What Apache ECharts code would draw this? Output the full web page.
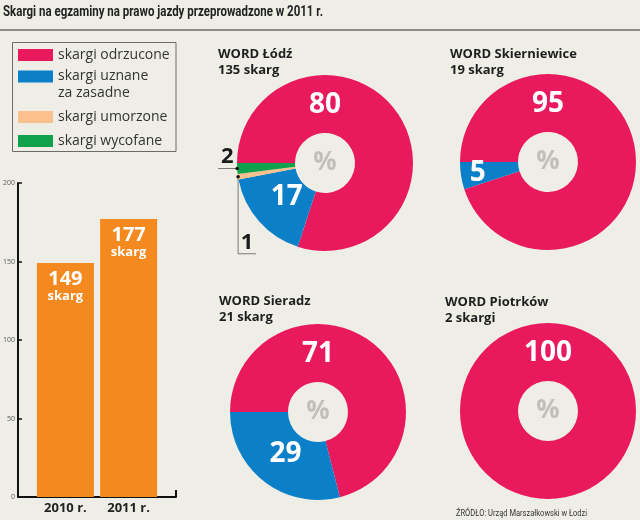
<!DOCTYPE html>
<html><head><meta charset="utf-8">
<script src="https://cdn.jsdelivr.net/npm/echarts@6/dist/echarts.min.js"></script>
<style>html,body{margin:0;padding:0;background:#efeee6}#c{width:640px;height:520px}</style>
</head><body><div id="c"></div>
<script>
// ---- data ----
const categories = ['skargi odrzucone', 'skargi uznane za zasadne', 'skargi umorzone', 'skargi wycofane'];
const pieNames = ['WORD Łódź', 'WORD Skierniewice', 'WORD Sieradz', 'WORD Piotrków'];
const pieCounts = ['135 skarg', '19 skarg', '21 skarg', '2 skargi'];
const lodz = [80, 17, 1, 2];
const skierniewice = [95, 5, 0, 0];
const sieradz = [71, 29, 0, 0];
const piotrkow = [100, 0, 0, 0];
const years = ['2010 r.', '2011 r.'];
const totals = [149, 177];
const yTicks = [0, 50, 100, 150, 200];
const titleText = 'Skargi na egzaminy na prawo jazdy przeprowadzone w 2011 r.';
const sourceText = 'ŹRÓDŁO: Urząd Marszałkowski w Łodzi';

// ---- styles / layout ----
const colors = ['#e9195d', '#0b7fc8', '#fcc08e', '#0fa14b'];
const BG = '#efeee6';
const FONT = 'Open Sans';
const R_OUT = 88, R_IN = 30;
const pieData = [lodz, skierniewice, sieradz, piotrkow];
const pieLayout = [
  { cx: 325, cy: 163, tx: 218, ty: 46, rl: 51 },
  { cx: 548, cy: 162, tx: 450, ty: 46, rl: 71 },
  { cx: 318, cy: 412, tx: 219, ty: 293, rl: 53 },
  { cx: 548, cy: 411, tx: 445, ty: 294, rl: 52 }
];

function fitScale(text, font, width) {
  const ctx = document.createElement('canvas').getContext('2d');
  ctx.font = font;
  return width / ctx.measureText(text).width;
}

const anchorDots = [];
function pieSeries(k) {
  const values = pieData[k];
  const L = pieLayout[k];
  const total = values.reduce((a, b) => a + b, 0);
  const items = [];
  values.forEach((v, i) => { if (v > 0) items.push({ cat: i, value: v }); });
  let cum = 0;
  const mids = items.map(it => {
    const a0 = 180 - 360 * cum / total; cum += it.value;
    const a1 = 180 - 360 * cum / total;
    return (a0 + a1) / 2 * Math.PI / 180;
  });
  items.forEach((it, i) => {
    if (it.cat >= 2) anchorDots.push([L.cx + R_OUT * Math.cos(mids[i]), L.cy - R_OUT * Math.sin(mids[i])]);
  });
  return {
    type: 'pie', center: [L.cx, L.cy], radius: [R_IN, R_OUT],
    startAngle: 180, clockwise: true, avoidLabelOverlap: false, silent: true,
    data: items.map(it => {
      const d = { name: categories[it.cat], value: it.value, itemStyle: { color: colors[it.cat] } };
      if (it.cat >= 2) {
        d.label = { position: 'outside', color: '#1a1a1a', fontSize: 22, fontWeight: 'bold' };
        d.labelLine = { show: true, lineStyle: { color: '#777', width: 1 } };
      }
      return d;
    }),
    label: { show: true, position: 'inside', formatter: '{c}', color: '#fff', fontSize: 28,
      fontWeight: 'bold', fontFamily: FONT },
    labelLine: { show: false },
    labelLayout: function (p) {
      const i = p.dataIndex, it = items[i], m = mids[i];
      if (!it) return {};
      if (it.cat === 0) return { x: L.cx, y: L.cy - 58, align: 'center', verticalAlign: 'middle' };
      if (it.cat === 1) return { x: L.cx + L.rl * Math.cos(m), y: L.cy - L.rl * Math.sin(m), align: 'center', verticalAlign: 'middle' };
      const ax = L.cx + R_OUT * Math.cos(m), ay = L.cy - R_OUT * Math.sin(m);
      if (it.cat === 3) return { x: ax - 10, y: ay - 12, align: 'center', verticalAlign: 'middle',
        labelLinePoints: [[ax, ay], [ax - 19, ay], [ax - 19, ay]] };
      return { x: ax + 9, y: ay + 66, align: 'center', verticalAlign: 'middle',
        labelLinePoints: [[ax, ay], [ax, ay + 77], [ax + 18, ay + 77]] };
    }
  };
}
const pies = [pieSeries(0), pieSeries(1), pieSeries(2), pieSeries(3)];

const legendTops = [48, 52.5, 110, 134];
const legends = categories.map((c, i) => ({
  data: [c], left: 18, top: legendTops[i], orient: 'vertical', padding: 0, itemGap: 0,
  itemWidth: 35, itemHeight: 12, icon: 'rect', selectedMode: false,
  formatter: n => n === categories[1] ? '{e| }\n{a|skargi uznane}\n{a|za zasadne}' : n,
  textStyle: i === 1
    ? { fontSize: 14, color: '#333', fontFamily: FONT,
        rich: { e: { lineHeight: 17, fontSize: 14 }, a: { lineHeight: 17, fontSize: 14, color: '#333', fontFamily: FONT } } }
    : { fontSize: 14, color: '#333', fontFamily: FONT, lineHeight: 12 }
}));

const titleFont = 'bold 14px Roboto';
const sourceFont = '9px Roboto';
const graphics = [
  { type: 'text', x: 3, y: 12, scaleX: fitScale(titleText, titleFont, 320),
    style: { text: titleText, font: titleFont, fill: '#222', verticalAlign: 'middle', textVerticalAlign: 'middle' } },
  { type: 'line', shape: { x1: 0, y1: 30, x2: 640, y2: 30 }, style: { stroke: '#8c8b84', lineWidth: 2 } },
  { type: 'rect', shape: { x: 12.5, y: 42.5, width: 163.5, height: 109 }, style: { fill: 'none', stroke: '#6a6a66', lineWidth: 1 } },
  { type: 'text', x: 456, y: 514, scaleX: fitScale(sourceText, sourceFont, 131),
    style: { text: sourceText, font: sourceFont, fill: '#333', verticalAlign: 'middle', textVerticalAlign: 'middle' } }
];
pieLayout.forEach((L, k) => {
  graphics.push({ type: 'text', x: L.tx, y: L.ty, style: { text: pieNames[k] + '\n' + pieCounts[k],
    font: 'bold 13px "' + FONT + '"', lineHeight: 16, fill: '#1e1e1e', verticalAlign: 'top', textVerticalAlign: 'top' } });
  graphics.push({ type: 'text', x: L.cx, y: L.cy, z: 100, style: { text: '%', font: 'bold 26px "' + FONT + '"',
    fill: '#c0bfb9', align: 'center', textAlign: 'center', verticalAlign: 'middle', textVerticalAlign: 'middle' } });
});
anchorDots.forEach(p => graphics.push({ type: 'circle', z: 100, shape: { cx: p[0], cy: p[1], r: 1.8 }, style: { fill: '#111' } }));

const option = {
  backgroundColor: BG,
  animation: false,
  legend: legends,
  graphic: graphics,
  grid: { left: 18, top: 183, width: 158, height: 314 },
  xAxis: {
    type: 'value', min: 0, max: 2.5,
    axisLine: { show: true, lineStyle: { color: '#111', width: 2 } },
    splitLine: { show: false },
    axisTick: { show: true, customValues: [2.5], inside: true, length: 7, lineStyle: { color: '#111', width: 2 } },
    axisLabel: { customValues: years.map((y, i) => i + 0.75), formatter: v => years[Math.round(v - 0.75)],
      fontSize: 13, fontWeight: 'bold', color: '#222', fontFamily: FONT, margin: 5 }
  },
  yAxis: {
    type: 'value', min: yTicks[0], max: yTicks[yTicks.length - 1], interval: yTicks[1] - yTicks[0],
    axisLine: { show: true, lineStyle: { color: '#111', width: 2 } },
    axisTick: { show: true, inside: true, length: 4, lineStyle: { color: '#111', width: 1.5 } },
    splitLine: { show: false },
    axisLabel: { fontSize: 7, color: '#555', margin: 3, fontFamily: FONT }
  },
  series: [
    {
      type: 'bar', barWidth: 57, silent: true,
      data: totals.map((v, i) => [i + 0.75, v]),
      itemStyle: { color: '#f4891f' },
      label: { show: true, position: 'insideTop', distance: 6,
        formatter: p => '{a|' + p.value[1] + '}\n{b|skarg}',
        rich: {
          a: { fontSize: 20, fontWeight: 'bold', color: '#fff', lineHeight: 20, fontFamily: FONT },
          b: { fontSize: 13, fontWeight: 'bold', color: '#fff', lineHeight: 15, fontFamily: FONT }
        } }
    }
  ].concat(pies)
};
const chart = echarts.init(document.getElementById('c'));
chart.setOption(option);
</script></body></html>
